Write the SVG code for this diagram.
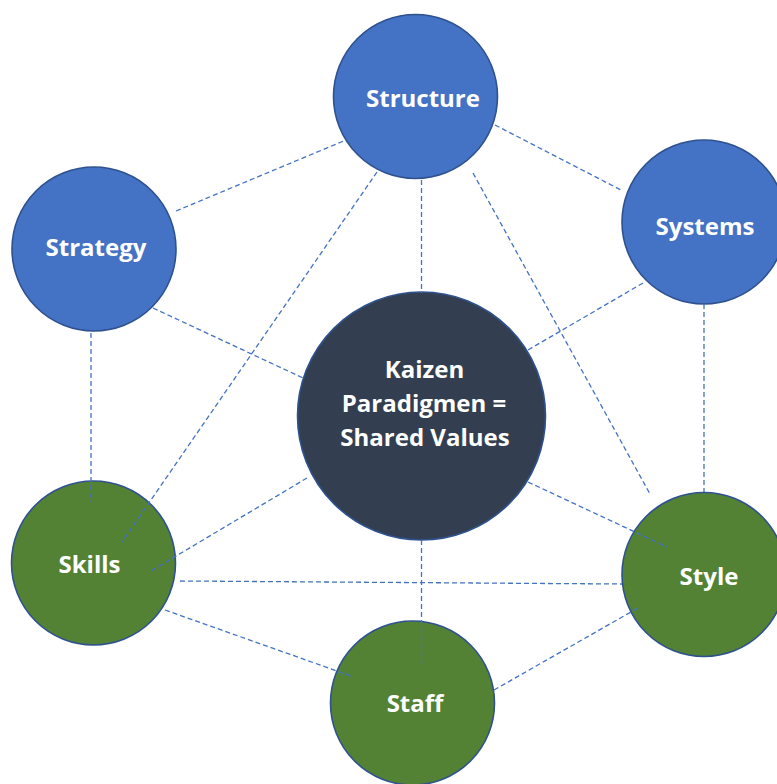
<svg xmlns="http://www.w3.org/2000/svg" width="777" height="784" viewBox="0 0 777 784">
  <style>
    .node { stroke: #2F528F; stroke-width: 1.6; }
    .blue { fill: #4472C4; }
    .green { fill: #548235; }
    .dark { fill: #333F50; }
    .lbl { font-family: "Open Sans", "Noto Sans", "Liberation Sans", sans-serif; font-weight: bold; font-size: 24px; fill: #FFFFFF; text-anchor: middle; }
    .conn line { stroke: #4472C4; stroke-width: 1.3; stroke-dasharray: 5 3; fill: none; }
  </style>
  <rect width="777" height="784" fill="#FFFFFF"/>
  <g id="nodes">
    <g id="structure">
      <circle class="node blue" cx="415.5" cy="96.5" r="82"/>
      <text class="lbl" x="423" y="107">Structure</text>
    </g>
    <g id="strategy">
      <circle class="node blue" cx="94" cy="249" r="82"/>
      <text class="lbl" x="96" y="256">Strategy</text>
    </g>
    <g id="systems">
      <circle class="node blue" cx="704" cy="222" r="82"/>
      <text class="lbl" x="705" y="235">Systems</text>
    </g>
    <g id="shared-values">
      <circle class="node dark" cx="421.5" cy="416" r="124"/>
      <text class="lbl" x="424.5" y="378">Kaizen</text>
      <text class="lbl" x="424" y="412">Paradigmen =</text>
      <text class="lbl" x="425" y="446">Shared Values</text>
    </g>
    <g id="skills">
      <circle class="node green" cx="93.5" cy="563" r="82"/>
      <text class="lbl" x="89.5" y="573">Skills</text>
    </g>
    <g id="style">
      <circle class="node green" cx="704" cy="574.5" r="82"/>
      <text class="lbl" x="709" y="585">Style</text>
    </g>
    <g id="staff">
      <circle class="node green" cx="412.5" cy="703" r="82"/>
      <text class="lbl" x="415" y="712">Staff</text>
    </g>
  </g>
  <g id="connectors" class="conn">
    <line x1="176" y1="211" x2="346" y2="140"/>
    <line x1="153" y1="308" x2="303" y2="378"/>
    <line x1="91" y1="333" x2="91" y2="502"/>
    <line x1="495" y1="125" x2="621" y2="190"/>
    <line x1="421.5" y1="180" x2="421.5" y2="293"/>
    <line x1="377" y1="172" x2="122" y2="542"/>
    <line x1="473" y1="173" x2="650" y2="494"/>
    <line x1="643" y1="283" x2="528" y2="350"/>
    <line x1="704" y1="304" x2="704" y2="492"/>
    <line x1="528" y1="482" x2="667" y2="547"/>
    <line x1="307" y1="478" x2="151" y2="571"/>
    <line x1="180" y1="581" x2="622" y2="584"/>
    <line x1="421.5" y1="540" x2="421.5" y2="664"/>
    <line x1="165" y1="610" x2="351" y2="676"/>
    <line x1="494" y1="690" x2="638" y2="608"/>
  </g>
</svg>
